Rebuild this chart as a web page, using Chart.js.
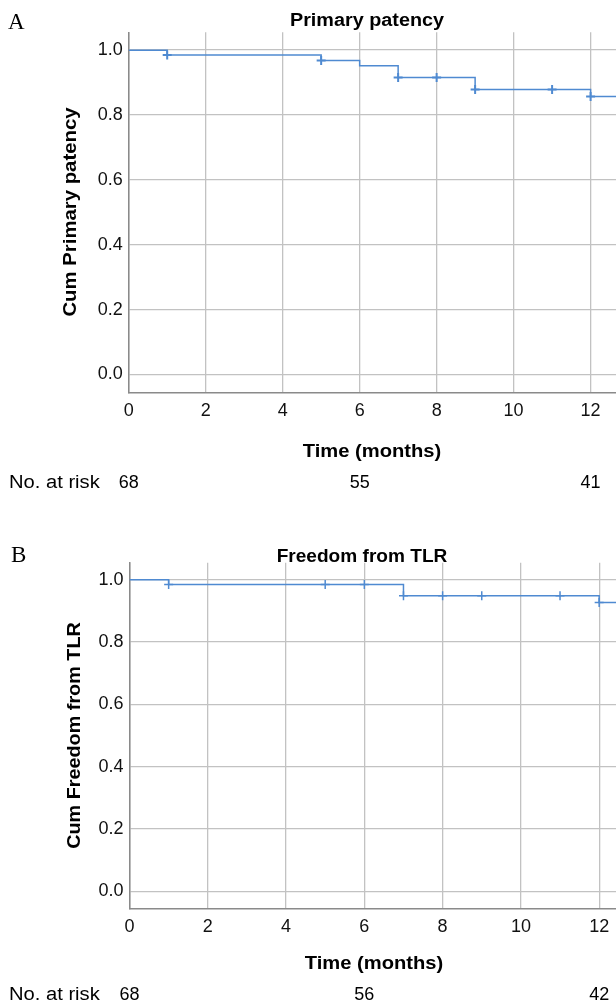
<!DOCTYPE html>
<html>
<head>
<meta charset="utf-8">
<script src="https://cdn.jsdelivr.net/npm/chart.js@4.4.0/dist/chart.umd.min.js"></script>
<style>
    body { margin: 0; background: #fff; width: 616px; height: 1004px; overflow: hidden; position: relative; }
    .panel { position: absolute; left: 0; width: 616px; }
</style>
</head>
<body>
<div class="panel" style="top:0;height:510px"><canvas id="chartA" width="616" height="510"></canvas></div>
<div class="panel" style="top:510px;height:494px"><canvas id="chartB" width="616" height="494"></canvas></div>
<script>
// Panel A - primary patency (step curve, censor marks, number at risk)
const timesA = [0, 1, 5, 6, 7, 9, 12, 13];
const survA = [1.0, 0.985, 0.968, 0.952, 0.916, 0.879, 0.857, 0.857];
const censorTimesA = [1, 5, 7, 8, 9, 11, 12];
const censorSurvA = [0.985, 0.968, 0.916, 0.916, 0.879, 0.879, 0.857];
const riskTimesA = [0, 6, 12];
const riskCountsA = [68, 55, 41];

// Panel B - freedom from TLR
const timesB = [0, 1, 7, 12, 13];
const survB = [1.0, 0.985, 0.949, 0.927, 0.927];
const censorTimesB = [1, 5, 6, 7, 8, 9, 11, 12];
const censorSurvB = [0.985, 0.985, 0.985, 0.949, 0.949, 0.949, 0.949, 0.927];
const riskTimesB = [0, 6, 12];
const riskCountsB = [68, 56, 42];

// axis ticks
const xTicks = [0, 2, 4, 6, 8, 10, 12];
const yTicks = [0, 0.2, 0.4, 0.6, 0.8, 1.0];

const lineColor = '#4f8ad1';
const gridColor = '#c2c2c2';
const sansFont = '"Liberation Sans", Arial, sans-serif';

// draws the panel letter, titles and the at-risk row
const textPlugin = {
    id: 'panelText',
    afterDraw(chart, args, opts) {
        const ctx = chart.ctx;
        const xScale = chart.scales.x;
        ctx.save();
        ctx.fillStyle = '#000';
        ctx.textBaseline = 'alphabetic';
        opts.labels.forEach(l => {
            ctx.save();
            ctx.font = l.font;
            ctx.textAlign = l.align || 'center';
            ctx.translate(l.x, l.y);
            if (l.rotate) ctx.rotate(l.rotate);
            ctx.scale(l.sx || 1, 1);
            ctx.fillText(l.text, 0, 0);
            ctx.restore();
        });
        ctx.font = '18px ' + sansFont;
        ctx.textAlign = 'center';
        opts.riskTimes.forEach((t, i) => {
            ctx.fillText(String(opts.riskCounts[i]), xScale.getPixelForValue(t), opts.riskY);
        });
        ctx.restore();
    }
};

function makeChart(id, cfg) {
    const ctx = document.getElementById(id).getContext('2d');
    return new Chart(ctx, {
        type: 'line',
        data: {
            datasets: [
                {
                    data: cfg.times.map((t, i) => ({ x: t, y: cfg.surv[i] })),
                    stepped: 'before',
                    borderColor: lineColor,
                    borderWidth: 1.5,
                    pointRadius: 0,
                    fill: false
                },
                {
                    type: 'scatter',
                    data: cfg.censorTimes.map((t, i) => ({ x: t, y: cfg.censorSurv[i] })),
                    pointStyle: 'cross',
                    pointRadius: 4.5,
                    borderColor: lineColor,
                    backgroundColor: lineColor,
                    borderWidth: cfg.markWidth,
                    showLine: false
                }
            ]
        },
        options: {
            responsive: false,
            animation: false,
            events: [],
            layout: { autoPadding: false, padding: { top: cfg.padTop, bottom: cfg.padBottom, left: 0, right: 0 } },
            plugins: {
                legend: { display: false },
                tooltip: { enabled: false },
                panelText: {
                    labels: cfg.labels,
                    riskTimes: cfg.riskTimes,
                    riskCounts: cfg.riskCounts,
                    riskY: cfg.riskY
                }
            },
            scales: {
                x: {
                    type: 'linear',
                    min: 0,
                    max: cfg.xMax,
                    afterBuildTicks: s => { s.ticks = xTicks.map(v => ({ value: v })); },
                    afterFit: s => { s.height = 40; s.paddingLeft = 0; s.paddingRight = 0; },
                    grid: { color: gridColor, lineWidth: 1.3, drawTicks: false },
                    border: { color: '#8a8a8a', width: 1.5 },
                    ticks: { color: '#111', font: { family: sansFont, size: 18 }, padding: 8, maxRotation: 0, autoSkip: false }
                },
                y: {
                    min: -0.055,
                    max: 1.055,
                    afterBuildTicks: s => { s.ticks = yTicks.map(v => ({ value: v })); },
                    afterFit: s => { s.width = cfg.yWidth; s.paddingTop = 0; s.paddingBottom = 0; },
                    grid: { color: gridColor, lineWidth: 1.3, drawTicks: false },
                    border: { color: '#8a8a8a', width: 1.5 },
                    ticks: { color: '#111', font: { family: sansFont, size: 18 }, padding: 6, callback: v => v.toFixed(1) }
                }
            }
        },
        plugins: [textPlugin]
    });
}

const boldFont = 'bold 18px ' + sansFont;
const serifFont = '23px "Liberation Serif", "DejaVu Serif", serif';

makeChart('chartA', {
    times: timesA, surv: survA,
    censorTimes: censorTimesA, censorSurv: censorSurvA,
    riskTimes: riskTimesA, riskCounts: riskCountsA, riskY: 488,
    markWidth: 2,
    xMax: 12.66, yWidth: 128.7,
    padTop: 32.3, padBottom: 77.7,
    labels: [
        { text: 'A', x: 8, y: 29, font: serifFont, align: 'left' },
        { text: 'Primary patency', x: 367, y: 26, font: boldFont, sx: 1.1 },
        { text: 'Cum Primary patency', x: 76, y: 212, font: boldFont, rotate: -Math.PI / 2, sx: 1.13 },
        { text: 'Time (months)', x: 372, y: 457, font: boldFont, sx: 1.12 },
        { text: 'No. at risk', x: 9, y: 488, font: '18px ' + sansFont, align: 'left', sx: 1.12 }
    ]
});

makeChart('chartB', {
    times: timesB, surv: survB,
    censorTimes: censorTimesB, censorSurv: censorSurvB,
    riskTimes: riskTimesB, riskCounts: riskCountsB, riskY: 490,
    markWidth: 1.5,
    xMax: 12.43, yWidth: 129.5,
    padTop: 52.7, padBottom: 55.7,
    labels: [
        { text: 'B', x: 11, y: 52, font: serifFont, align: 'left' },
        { text: 'Freedom from TLR', x: 362, y: 52, font: boldFont, sx: 1.06 },
        { text: 'Cum Freedom from TLR', x: 80, y: 225.5, font: boldFont, rotate: -Math.PI / 2, sx: 1.1 },
        { text: 'Time (months)', x: 374, y: 459, font: boldFont, sx: 1.12 },
        { text: 'No. at risk', x: 9, y: 490, font: '18px ' + sansFont, align: 'left', sx: 1.12 }
    ]
});
</script>
</body>
</html>
